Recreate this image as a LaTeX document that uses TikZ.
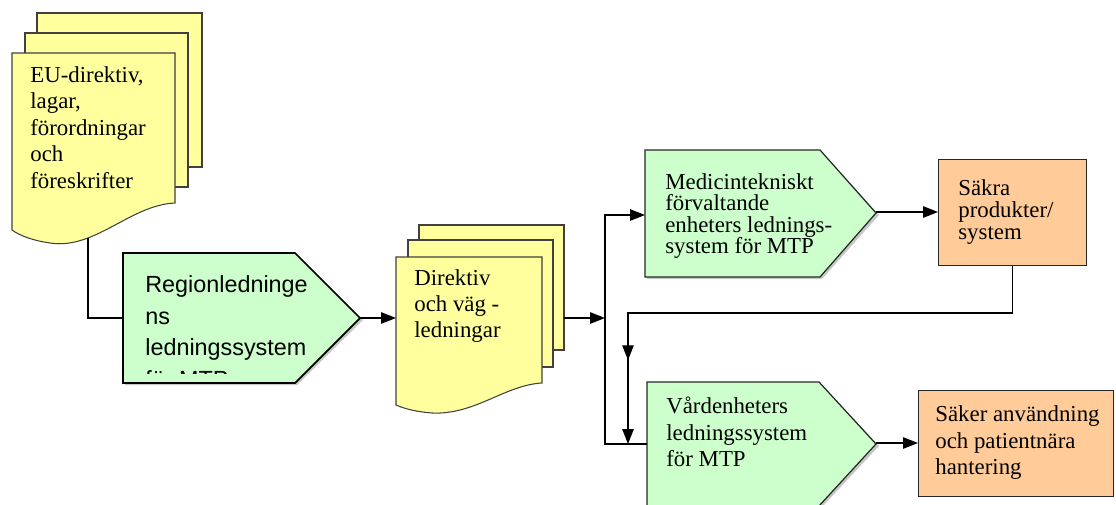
\documentclass[tikz,border=0pt]{standalone}
\usepackage{fontspec}
\setmainfont{Liberation Serif}
\setsansfont{Liberation Sans}
\usetikzlibrary{arrows.meta,decorations.markings,positioning}
\definecolor{docyellow}{RGB}{255,255,158}
\definecolor{signgreen}{RGB}{204,255,204}
\definecolor{outorange}{RGB}{255,204,153}
\tikzset{
    sheet/.style={fill=docyellow,draw=black!75,line width=0.6pt},
    signbox/.style={fill=signgreen,draw=black!85,line width=0.7pt},
    signshadow/.style={fill=black!22,draw=none},
    outbox/.style={fill=outorange,draw=black!85,line width=0.7pt,inner sep=0pt,anchor=north west,minimum height=2.12cm},
    boxtext/.style={anchor=north west,inner sep=0pt,align=left},
    link/.style={line width=0.8pt},
    flow/.style={line width=0.8pt,-{Triangle[length=8.5pt,width=6.5pt]}},
}

\begin{document}
\begin{tikzpicture}[x=0.02cm,y=-0.02cm]
        \useasboundingbox (0,0) rectangle (1116,504);

        % document stacks
        \draw[sheet] (37,13) rectangle (202,167);
        \draw[sheet] (25,33) rectangle (188,187);
        \draw[sheet] (12,53) -- (175,53) -- (175,203) .. controls (130,205) and (95,250) .. (50,243) .. controls (35,241) and (20,236) .. (12,230) -- cycle;
        \coordinate (euFoot) at (88,238);

        \draw[sheet] (419,225) rectangle (564,350);
        \draw[sheet] (408,240) rectangle (553,367);
        \draw[sheet] (396,257) -- (542,257) -- (542,383) .. controls (505,385) and (475,415) .. (432,413) .. controls (418,412) and (405,409) .. (396,405) -- cycle;
        \coordinate (dirIn) at (396,318);
        \coordinate (dirOut) at (564,318);

        % pentagons
        \fill[signshadow] (125,255) -- (297,255) -- (363,320) -- (297,385) -- (125,385) -- cycle;
        \draw[signbox,line width=1pt,draw=black] (123,253) -- (295,253) -- (360,318) -- (295,383) -- (123,383) -- cycle;
        \coordinate (regionIn) at (123,318);
        \coordinate (regionTip) at (360,318);

        \fill[signshadow] (647,152) -- (822,152) -- (879,215) -- (822,279) -- (647,279) -- cycle;
        \draw[signbox] (645,150) -- (820,150) -- (876,213) -- (820,277) -- (645,277) -- cycle;
        \coordinate (medIn) at (645,215);
        \coordinate (medTip) at (876,212);

        \fill[signshadow] (649,384) -- (821,384) -- (879,446) -- (821,508) -- (649,508) -- cycle;
        \draw[signbox] (647,382) -- (819,382) -- (876,444) -- (819,506) -- (647,506) -- cycle;
        \coordinate (vardIn) at (647,444);
        \coordinate (vardTip) at (876,443);

        % result boxes
        \node[outbox,minimum width=2.96cm] (sakra) at (938,159) {};
        \node[outbox,minimum width=3.9cm] (saker) at (918,390) {};

        % texts
        \begin{scope}[every node/.style={boxtext}]
            \node[font=\fontsize{13}{15.1}\selectfont] (eu) at (30,66) {EU-direktiv,\\lagar,\\förordningar\\och\\föreskrifter};
            \node[font=\fontsize{13}{14.9}\selectfont] (dir) at (414,269) {Direktiv\\och väg -\\ledningar};
            \node[font=\fontsize{13}{12.2}\selectfont] (med) at (665,173) {Medicintekniskt\\förvaltande\\enheters lednings-\\system för MTP};
            \node[font=\fontsize{13}{12.7}\selectfont] (sakratext) at (958,179) {Säkra\\produkter/\\system};
            \node[font=\fontsize{13}{15.1}\selectfont] (vard) at (666,397) {Vårdenheters\\ledningssystem\\för MTP};
            \node[font=\fontsize{13}{15.3}\selectfont] (sakertext) at (935,405) {Säker användning\\och patientnära\\hantering};
        \end{scope}
        \begin{scope}
            \clip (123,253) rectangle (330,373);
            \node[boxtext,font=\sffamily\fontsize{13.3}{18.1}\selectfont] (region) at (145,275) {Regionledninge\\ns\\ledningssystem\\för MTP};
        \end{scope}

        % connectors
        \coordinate (junc) at (605,318);
        \coordinate (loopTurn) at (628,313);
        \coordinate (loopEnd) at (628,444);
        \draw[link] (euFoot) |- (regionIn);
        \draw[flow] (regionTip) -- (dirIn);
        \draw[flow] (dirOut) -- (junc);
        \draw[flow] (junc) |- (medIn);
        \draw[link] (junc) |- (vardIn);
        \draw[flow] (medTip) -- (medTip -| sakra.west);
        \draw[flow] (vardTip) -- (vardTip -| saker.west);
        \draw[flow,decoration={markings,mark=at position 0.851 with {\arrow{Triangle[length=8.5pt,width=6.5pt]}}},postaction={decorate}]
            (sakra.south) |- (loopTurn) -- (loopEnd);
\end{tikzpicture}
\end{document}
